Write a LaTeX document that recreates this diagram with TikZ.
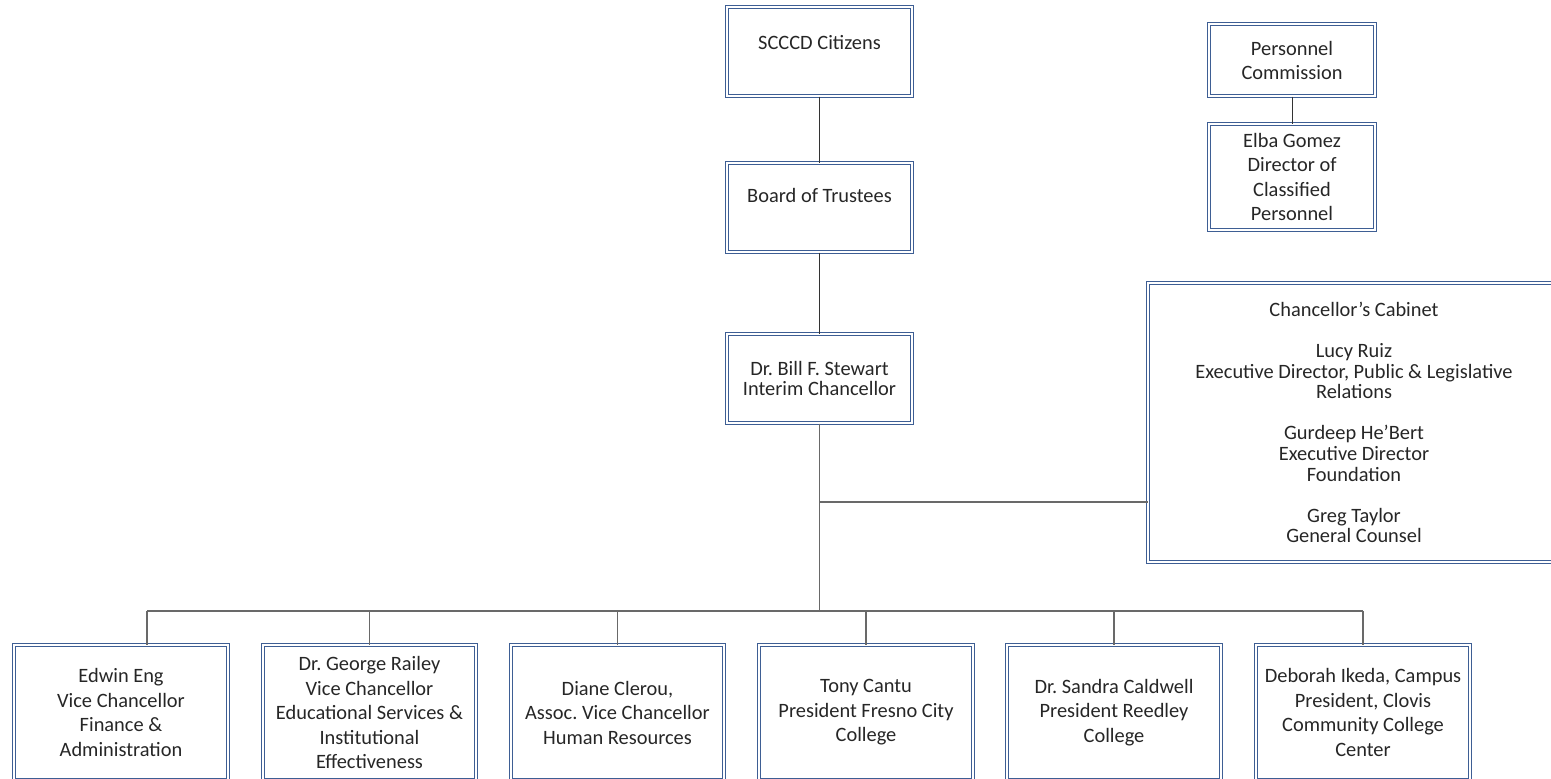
\documentclass[tikz,border=0pt]{standalone}
\usepackage{fontspec}
\setmainfont{Carlito}
\frenchspacing
\definecolor{boxblue}{RGB}{62,94,148}
\definecolor{linegray}{RGB}{105,105,105}
\definecolor{txtgray}{RGB}{38,38,38}

\begin{document}
\begin{tikzpicture}[x=0.5pt,y=-0.5pt]
\tikzstyle{orgbox}=[rectangle,draw=boxblue,line width=0.5pt,double=white,double distance=1pt,align=center,inner sep=0pt,text=txtgray,font=\fontsize{10.2}{10.2}\selectfont]
\tikzstyle{topbox}=[orgbox,minimum width=92.5pt,minimum height=44.5pt]
\tikzstyle{unitbox}=[orgbox,minimum width=106.75pt,minimum height=67.5pt,font=\fontsize{10.2}{12.25}\selectfont]
\tikzstyle{link}=[draw=linegray,line width=0.75pt]
\tikzstyle{toplink}=[draw=black!80,line width=0.5pt]

\useasboundingbox (0,0) rectangle (1551,778);
\clip (0,0) rectangle (1551,778);

\node[topbox] (cit) at (819.5,51.5) {SCCCD Citizens\\[-1pt]~};
\node[topbox] (board) at (819.5,207.5) {Board of Trustees\\[2pt]~};
\node[topbox] (stew) at (819.5,378.5) {Dr. Bill F. Stewart\\Interim Chancellor};

\node[orgbox,minimum width=83pt,minimum height=36pt,font=\fontsize{10.2}{12}\selectfont] (pers) at (1292,60) {Personnel\\Commission};
\node[orgbox,minimum width=83pt,minimum height=53pt,font=\fontsize{10.2}{12.2}\selectfont] (elba) at (1292,177) {Elba Gomez\\Director of\\Classified\\Personnel};

\node[orgbox,minimum width=206pt,minimum height=139.5pt,font=\fontsize{10.2}{10.3}\selectfont] (cab) at (1354,422.5)
{Chancellor’s Cabinet\\[10.3pt]Lucy Ruiz\\Executive Director, Public \& Legislative\\Relations\\[10.3pt]Gurdeep He’Bert\\Executive Director\\Foundation\\[10.3pt]Greg Taylor\\General Counsel};

\node[unitbox] (eng) at (121,712.5) {Edwin Eng\\Vice Chancellor\\Finance \&\\Administration};
\node[unitbox] (railey) at (369.5,712.5) {Dr. George Railey\\Vice Chancellor\\Educational Services \&\\Institutional\\Effectiveness};
\node[unitbox] (clerou) at (617.5,712.5) {Diane Clerou,\\Assoc. Vice Chancellor\\Human Resources};
\node[unitbox] (cantu) at (866,712.5) {Tony Cantu\\President Fresno City\\College};
\node[unitbox] (caldwell) at (1114,712.5) {Dr. Sandra Caldwell\\President Reedley\\College};
\node[unitbox] (ikeda) at (1363,712.5) {Deborah Ikeda, Campus\\President, Clovis\\Community College\\Center};

\coordinate (hub) at (819.5,502);
\coordinate (bus) at (819.5,611);
\coordinate (b1) at (147,611);
\coordinate (b6) at (1363,611);

\draw[toplink] (cit) -- (board);
\draw[toplink] (board) -- (stew);
\draw[toplink] (pers) -- (elba);
\draw[link] (stew) -- (bus);
\draw[link] (hub) -- (hub -| cab.west);
\draw[link] (b1) -- (b6);
\draw[link] (b1) -- (b1 |- eng.north);
\foreach \u in {railey,clerou,cantu,caldwell,ikeda}
  \draw[link] (\u.north |- bus) -- (\u.north);
\end{tikzpicture}
\end{document}
